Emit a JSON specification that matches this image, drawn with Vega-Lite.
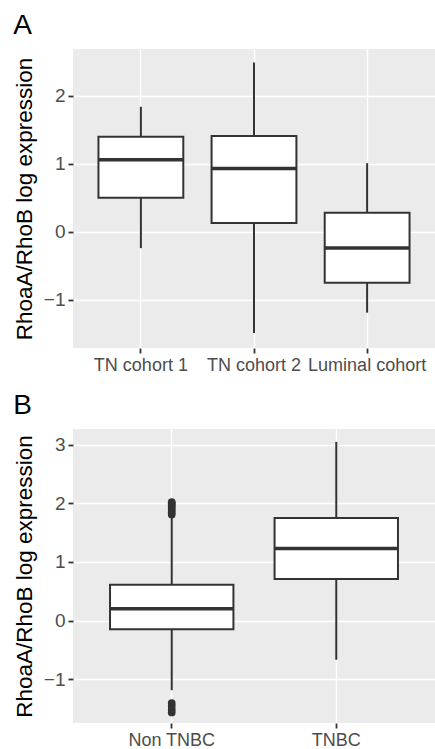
{
  "$schema": "https://vega.github.io/schema/vega-lite/v6.json",
  "background": "white",
  "padding": {"left": 13, "top": 12, "right": 0, "bottom": 0},
  "datasets": {
    "A": [
      {"group": "TN cohort 1", "lower": -0.24, "q1": 0.5, "median": 1.06, "q3": 1.4, "upper": 1.84},
      {"group": "TN cohort 2", "lower": -1.49, "q1": 0.13, "median": 0.93, "q3": 1.41, "upper": 2.49},
      {"group": "Luminal cohort", "lower": -1.19, "q1": -0.75, "median": -0.24, "q3": 0.28, "upper": 1.01}
    ],
    "B": [
      {"group": "Non TNBC", "lower": -1.19, "q1": -0.15, "median": 0.2, "q3": 0.61, "upper": 1.79},
      {"group": "TNBC", "lower": -0.67, "q1": 0.71, "median": 1.23, "q3": 1.75, "upper": 3.05}
    ],
    "Bout": [
      {"group": "Non TNBC", "value": 1.81},
      {"group": "Non TNBC", "value": 1.85},
      {"group": "Non TNBC", "value": 1.89},
      {"group": "Non TNBC", "value": 1.93},
      {"group": "Non TNBC", "value": 1.97},
      {"group": "Non TNBC", "value": 2.0},
      {"group": "Non TNBC", "value": 2.02},
      {"group": "Non TNBC", "value": -1.41},
      {"group": "Non TNBC", "value": -1.46},
      {"group": "Non TNBC", "value": -1.52},
      {"group": "Non TNBC", "value": -1.57}
    ]
  },
  "config": {
    "view": {"fill": "#EBEBEB", "stroke": null},
    "font": "Liberation Sans",
    "axis": {
      "domain": false,
      "gridColor": "white",
      "gridWidth": 1.4,
      "tickColor": "#333333",
      "tickWidth": 1.8,
      "tickSize": 5,
      "labelColor": "#4D4D4D",
      "labelFontSize": 19,
      "labelPadding": 3,
      "titleFontSize": 22.5,
      "titleFontWeight": "normal",
      "titleColor": "#000000"
    },
    "title": {"anchor": "start", "frame": "bounds", "fontSize": 28, "fontWeight": "normal", "color": "#000000", "offset": 9}
  },
  "spacing": 18,
  "vconcat": [
    {
      "title": {"text": "A"},
      "width": 362,
      "height": 299,
      "data": {"name": "A"},
      "resolve": {"axis": {"y": "independent"}},
      "encoding": {
        "x": {
          "field": "group", "type": "nominal",
          "sort": ["TN cohort 1", "TN cohort 2", "Luminal cohort"],
          "scale": {"paddingInner": 0, "paddingOuter": 0.1},
          "axis": {"title": null, "labelAngle": 0, "grid": true, "labelOverlap": false, "labelFontSize": 18, "labelColor": "#4D4D4D"}
        }
      },
      "layer": [
        {
          "mark": {"type": "rule", "color": "#333333", "strokeWidth": 2},
          "encoding": {
            "y": {
              "field": "lower", "type": "quantitative",
              "scale": {"domain": [-1.71, 2.69], "nice": false, "zero": false},
              "axis": {
                "title": "RhoaA/RhoB log expression",
                "values": [-1, 0, 1, 2],
                "titlePadding": 7
              }
            },
            "y2": {"field": "upper"}
          }
        },
        {
          "mark": {"type": "bar", "fill": "white", "stroke": "#333333", "strokeWidth": 2, "width": {"band": 0.75}},
          "encoding": {
            "y": {
              "field": "q1", "type": "quantitative",
              "axis": {
                "title": null, "orient": "right", "values": [-1.5, -0.5, 0.5, 1.5, 2.5],
                "labels": false, "ticks": false, "gridWidth": 0.7
              }
            },
            "y2": {"field": "q3"}
          }
        },
        {
          "mark": {"type": "tick", "color": "#333333", "opacity": 1, "thickness": 3.5, "size": 85},
          "encoding": {
            "y": {"field": "median", "type": "quantitative", "axis": null}
          }
        }
      ]
    },
    {
      "title": {"text": "B"},
      "width": 362,
      "height": 294,
      "resolve": {"axis": {"y": "independent"}},
      "encoding": {
        "x": {
          "field": "group", "type": "nominal",
          "sort": ["Non TNBC", "TNBC"],
          "scale": {"paddingInner": 0, "paddingOuter": 0.1},
          "axis": {"title": null, "labelAngle": 0, "grid": true, "labelFontSize": 18, "labelColor": "#4D4D4D"}
        }
      },
      "layer": [
        {
          "data": {"name": "B"},
          "mark": {"type": "rule", "color": "#333333", "strokeWidth": 2},
          "encoding": {
            "y": {
              "field": "lower", "type": "quantitative",
              "scale": {"domain": [-1.75, 3.27], "nice": false, "zero": false},
              "axis": {
                "title": "RhoaA/RhoB log expression",
                "values": [-1, 0, 1, 2, 3],
                "titlePadding": 7
              }
            },
            "y2": {"field": "upper"}
          }
        },
        {
          "data": {"name": "B"},
          "mark": {"type": "bar", "fill": "white", "stroke": "#333333", "strokeWidth": 2, "width": {"band": 0.75}},
          "encoding": {
            "y": {
              "field": "q1", "type": "quantitative",
              "axis": {
                "title": null, "orient": "right", "values": [-1.5, -0.5, 0.5, 1.5, 2.5],
                "labels": false, "ticks": false, "gridWidth": 0.7
              }
            },
            "y2": {"field": "q3"}
          }
        },
        {
          "data": {"name": "B"},
          "mark": {"type": "tick", "color": "#333333", "opacity": 1, "thickness": 3.5, "size": 124},
          "encoding": {
            "y": {"field": "median", "type": "quantitative", "axis": null}
          }
        },
        {
          "data": {"name": "Bout"},
          "mark": {"type": "circle", "color": "#333333", "opacity": 1, "size": 60},
          "encoding": {
            "y": {"field": "value", "type": "quantitative", "axis": null}
          }
        }
      ]
    }
  ]
}
